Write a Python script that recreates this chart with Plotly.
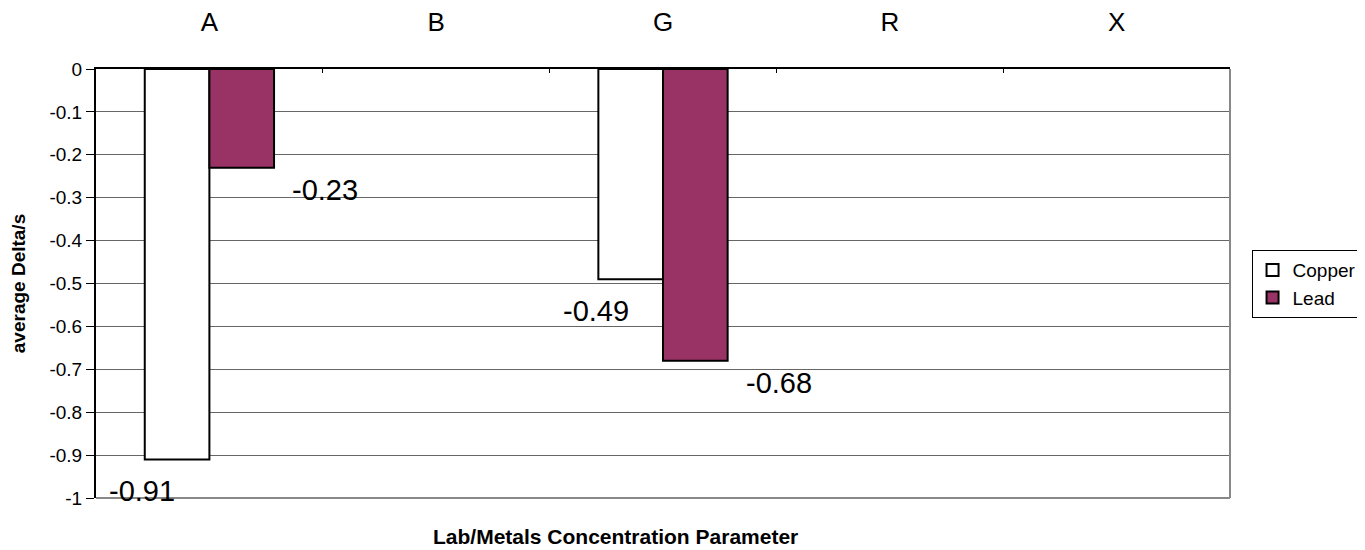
import plotly.graph_objects as go

categories = ["A", "B", "G", "R", "X"]
copper = [-0.91, None, -0.49, None, None]
lead = [-0.23, None, -0.68, None, None]
ytick_vals = [0, -0.1, -0.2, -0.3, -0.4, -0.5, -0.6, -0.7, -0.8, -0.9, -1]
ytick_text = ["0", "-0.1", "-0.2", "-0.3", "-0.4", "-0.5", "-0.6", "-0.7", "-0.8", "-0.9", "-1"]

FONT = "Liberation Sans, Arial, sans-serif"

fig = go.Figure()
fig.add_trace(go.Bar(name="Copper", x=categories, y=copper,
                     marker=dict(color="#FFFFFF", line=dict(color="#000000", width=2))))
fig.add_trace(go.Bar(name="Lead", x=categories, y=lead,
                     marker=dict(color="#993366", line=dict(color="#000000", width=2))))

# data labels (Excel-style placement offsets per series)
label_style = {"Copper": (-67, -32), "Lead": (116, -22)}
for name, vals in (("Copper", copper), ("Lead", lead)):
    dx, dy = label_style[name]
    for c, v in zip(categories, vals):
        if v is None:
            continue
        fig.add_annotation(x=c, y=v, text=f"{v:.2f}", showarrow=False,
                           xshift=dx, yshift=dy, xanchor="center", yanchor="middle",
                           font=dict(size=29, color="#000000", family=FONT))

fig.add_annotation(xref="paper", yref="paper", x=0.458, y=-0.09, yanchor="middle",
                   text="<b>Lab/Metals Concentration Parameter</b>", showarrow=False,
                   font=dict(size=21, color="#000000", family=FONT))

# right/bottom frame (gray)
fig.add_shape(type="line", xref="paper", yref="paper", x0=1, x1=1, y0=0, y1=1,
              line=dict(color="#888888", width=2))
fig.add_shape(type="line", xref="paper", yref="paper", x0=0, x1=1, y0=0, y1=0,
              line=dict(color="#888888", width=2))

# the page body has an 8px default margin; the figure is sized to fit inside it
fig.update_layout(
    width=1349, height=542,
    margin=dict(l=88, r=127, t=61, b=52, autoexpand=False),
    paper_bgcolor="#FFFFFF", plot_bgcolor="#FFFFFF",
    font=dict(family=FONT, color="#000000"),
    barmode="group", bargap=0.43, bargroupgap=0,
    showlegend=True,
    legend=dict(x=1.019, y=0.578, xanchor="left", yanchor="top",
                bordercolor="#000000", borderwidth=1, bgcolor="#FFFFFF",
                font=dict(size=19, family=FONT, color="#000000"),
                itemwidth=30),
    xaxis=dict(side="top", type="category", showgrid=False, zeroline=False,
               automargin=False,
               showline=True, linecolor="#000000", linewidth=2,
               tickson="boundaries", ticks="inside", ticklen=4, tickcolor="#000000",
               tickfont=dict(size=26, family=FONT, color="#000000"),
               ticklabelstandoff=26),
    yaxis=dict(range=[-1, 0], tickvals=ytick_vals, ticktext=ytick_text,
               automargin=False,
               showgrid=True, gridcolor="#666666", gridwidth=1, zeroline=False,
               showline=True, linecolor="#000000", linewidth=2,
               ticks="outside", ticklen=8, tickcolor="#000000",
               tickfont=dict(size=19, family=FONT, color="#000000"),
               title=dict(text="<b>average Delta/s</b>", standoff=22,
                          font=dict(size=19, family=FONT, color="#000000"))),
)

fig.write_html("out.html")
